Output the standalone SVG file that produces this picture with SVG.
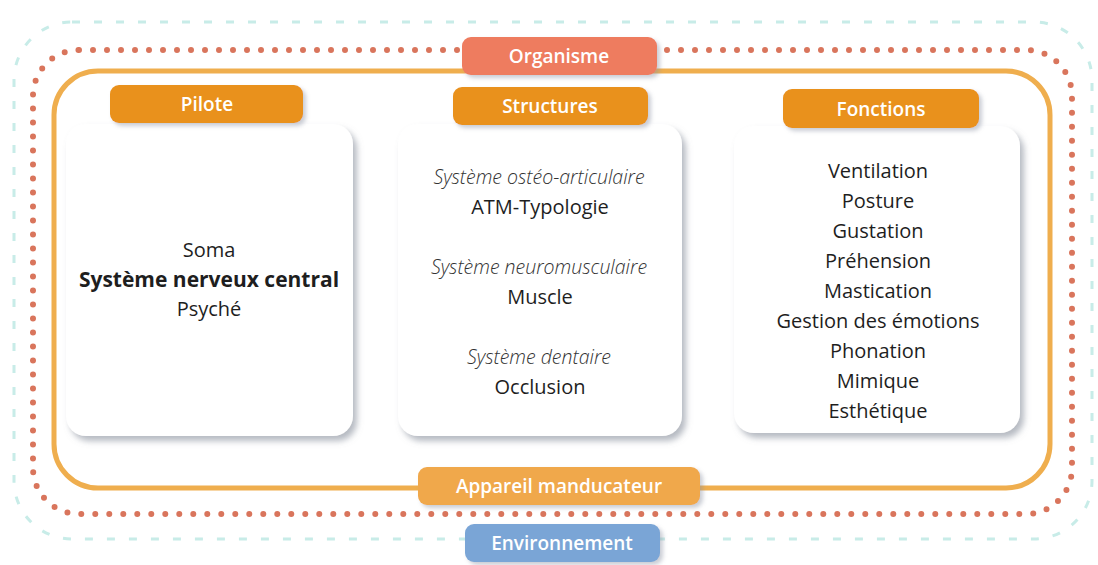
<svg xmlns="http://www.w3.org/2000/svg" width="1098" height="565" viewBox="0 0 1098 565">
<defs>
<filter id="sh" x="-10%" y="-10%" width="125%" height="125%">
<feDropShadow dx="4" dy="5" stdDeviation="3" flood-color="#7a8290" flood-opacity="0.55"/>
</filter>
<filter id="lsh" x="-10%" y="-20%" width="125%" height="150%">
<feDropShadow dx="3" dy="3" stdDeviation="2" flood-color="#8a90a0" flood-opacity="0.45"/>
</filter>
<style>
.env{fill:none;stroke:#c8ece8;stroke-width:3;stroke-dasharray:8 14}
.org{fill:none;stroke:#d9755c;stroke-width:6;stroke-linecap:round;stroke-dasharray:0 14}
.app{fill:none;stroke:#efae4e;stroke-width:5}
.box{fill:#ffffff;filter:url(#sh)}
.lbl{filter:url(#lsh)}
.lt{font-family:"Open Sans","Noto Sans",sans-serif;font-size:19px;font-weight:600;fill:#ffffff;text-anchor:middle}
.t{font-family:"Open Sans","Noto Sans",sans-serif;font-size:20px;fill:#1e1e1e;text-anchor:middle}
.ti{font-family:"Open Sans","Noto Sans",sans-serif;font-size:19.5px;font-style:italic;font-weight:300;fill:#333333;text-anchor:middle}
.tb{font-family:"Open Sans","Noto Sans",sans-serif;font-size:21px;font-weight:700;fill:#1e1e1e;text-anchor:middle}
</style>
</defs>
<g id="connectors">
<rect id="environnement-border" class="env" x="14" y="22" width="1078" height="517" rx="58"/>
<rect id="organisme-border" class="org" x="33" y="50" width="1039" height="464" rx="46"/>
<rect id="appareil-border" class="app" x="54" y="71" width="996" height="417" rx="44"/>
</g>
<g id="pilote-box">
<rect class="box" x="66" y="124" width="287" height="312" rx="20"/>
<text class="t" x="209" y="257">Soma</text>
<text class="tb" x="209" y="287">Système nerveux central</text>
<text class="t" x="209" y="316">Psyché</text>
</g>
<g id="structures-box">
<rect class="box" x="398" y="124" width="284" height="312" rx="20"/>
<text class="ti" x="539" y="184">Système ostéo-articulaire</text>
<text class="t" x="540" y="214">ATM-Typologie</text>
<text class="ti" x="539" y="274">Système neuromusculaire</text>
<text class="t" x="540" y="304">Muscle</text>
<text class="ti" x="539" y="364">Système dentaire</text>
<text class="t" x="540" y="394">Occlusion</text>
</g>
<g id="fonctions-box">
<rect class="box" x="734" y="126" width="286" height="307" rx="20"/>
<text class="t" x="878" y="178">Ventilation</text>
<text class="t" x="878" y="208">Posture</text>
<text class="t" x="878" y="238">Gustation</text>
<text class="t" x="878" y="268">Préhension</text>
<text class="t" x="878" y="298">Mastication</text>
<text class="t" x="878" y="328">Gestion des émotions</text>
<text class="t" x="878" y="358">Phonation</text>
<text class="t" x="878" y="388">Mimique</text>
<text class="t" x="878" y="418">Esthétique</text>
</g>
<g id="organisme">
<rect class="lbl" x="462" y="37" width="195" height="38" rx="9" fill="#ee7b5e"/>
<text class="lt" x="559" y="63">Organisme</text>
</g>
<g id="pilote">
<rect class="lbl" x="110" y="85" width="193" height="38" rx="9" fill="#e9911e"/>
<text class="lt" x="207" y="111">Pilote</text>
</g>
<g id="structures">
<rect class="lbl" x="453" y="87" width="195" height="38" rx="9" fill="#e9911e"/>
<text class="lt" x="550" y="113">Structures</text>
</g>
<g id="fonctions">
<rect class="lbl" x="783" y="89" width="196" height="39" rx="9" fill="#e9911e"/>
<text class="lt" x="881" y="116">Fonctions</text>
</g>
<g id="appareil-manducateur">
<rect class="lbl" x="418" y="467" width="282" height="38" rx="9" fill="#f0a84c"/>
<text class="lt" x="559" y="493">Appareil manducateur</text>
</g>
<g id="environnement">
<rect class="lbl" x="465" y="524" width="195" height="38" rx="9" fill="#7aa5d6"/>
<text class="lt" x="562" y="550">Environnement</text>
</g>
</svg>
